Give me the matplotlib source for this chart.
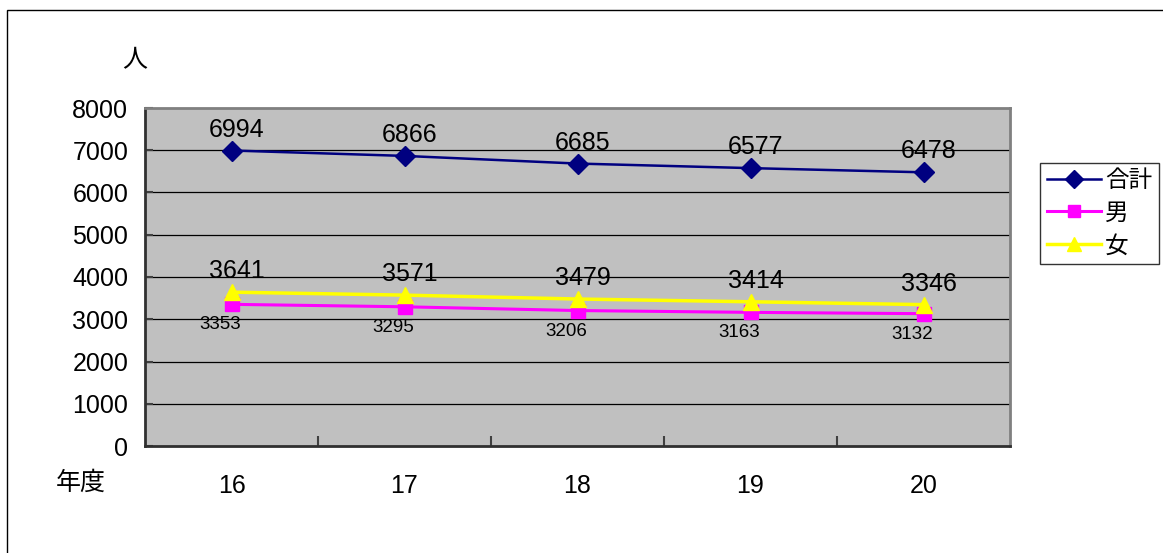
import matplotlib
matplotlib.use("Agg")
import matplotlib.pyplot as plt
from matplotlib.patches import Rectangle
from matplotlib.lines import Line2D

plt.rcParams['font.family'] = ['Liberation Sans', 'Noto Sans CJK JP', 'DejaVu Sans']

years = ["16", "17", "18", "19", "20"]
total = [6994, 6866, 6685, 6577, 6478]
male = [3353, 3295, 3206, 3163, 3132]
female = [3641, 3571, 3479, 3414, 3346]
yticks = [0, 1000, 2000, 3000, 4000, 5000, 6000, 7000, 8000]

W, H = 1163, 553
fig = plt.figure(figsize=(W / 100, H / 100), dpi=100)
fig.patch.set_facecolor('white')

# outer chart border (right/bottom cut off)
fig.add_artist(Rectangle((7 / W, -0.1), 1.2, (H - 10) / H + 0.1, transform=fig.transFigure,
                         fill=False, edgecolor='black', linewidth=1.0))

l, r, t, b = 145, 1010, 108, 446
ax = fig.add_axes([l / W, 1 - b / H, (r - l) / W, (b - t) / H])
ax.set_facecolor('#C0C0C0')
x = list(range(len(years)))
ax.set_xlim(-0.5, len(years) - 0.5)
ax.set_ylim(0, 8000)

FS = 18
ax.set_yticks(yticks)
ax.set_yticklabels([str(v) for v in yticks], fontsize=FS)
for v in yticks[1:-1]:
    ax.axhline(v, color='black', linewidth=0.9, zorder=1)

ax.set_xticks(x)
ax.set_xticklabels(years, fontsize=FS)
ax.set_xticks([i + 0.5 for i in x[:-1]], minor=True)
ax.tick_params(axis='x', which='major', length=0, pad=20)
ax.tick_params(axis='x', which='minor', direction='in', length=7, width=1.5, color='#404040')
ax.tick_params(axis='y', which='major', direction='in', length=6, width=1.5, pad=12, color='#404040')

for side in ['top', 'right']:
    ax.spines[side].set_color('#808080')
    ax.spines[side].set_linewidth(2)
for side in ['left', 'bottom']:
    ax.spines[side].set_color('#303030')
    ax.spines[side].set_linewidth(2)

ax.plot(x, total, color='#000080', linewidth=1.8, marker='D', markersize=10, zorder=3)
ax.plot(x, male, color='#FF00FF', linewidth=2.2, marker='s', markersize=10, zorder=3)
ax.plot(x, female, color='#FFFF00', linewidth=2.5, marker='^', markersize=11, zorder=4)

for xi, v in zip(x, total):
    ax.annotate(str(v), (xi, v), xytext=(5, 9), textcoords='offset pixels',
                ha='center', va='bottom', fontsize=FS, zorder=5)
for xi, v in zip(x, female):
    ax.annotate(str(v), (xi, v), xytext=(5, 9), textcoords='offset pixels',
                ha='center', va='bottom', fontsize=FS, zorder=5)
for xi, v in zip(x, male):
    ax.annotate(str(v), (xi, v), xytext=(-11, -12), textcoords='offset pixels',
                ha='center', va='top', fontsize=13.5, zorder=5)

fig.text(135 / W, 1 - 60 / H, '人', fontsize=FS, ha='center', va='center')
fig.text(81 / W, 1 - 483 / H, '年度', fontsize=FS, ha='center', va='center')

handles = [
    Line2D([], [], color='#000080', linewidth=1.8, marker='D', markersize=9),
    Line2D([], [], color='#FF00FF', linewidth=2.2, marker='s', markersize=9),
    Line2D([], [], color='#FFFF00', linewidth=2.5, marker='^', markersize=10),
]
leg = fig.legend(handles, ['合計', '男', '女'], loc='upper left',
                 bbox_to_anchor=(1040 / W, 1 - 163 / H), fontsize=17,
                 frameon=True, fancybox=False, edgecolor='black', handlelength=2.3,
                 handletextpad=0.15, borderpad=0.3, labelspacing=0.45, borderaxespad=0)
leg.get_frame().set_linewidth(1.0)

fig.savefig('out.png', dpi=100)
